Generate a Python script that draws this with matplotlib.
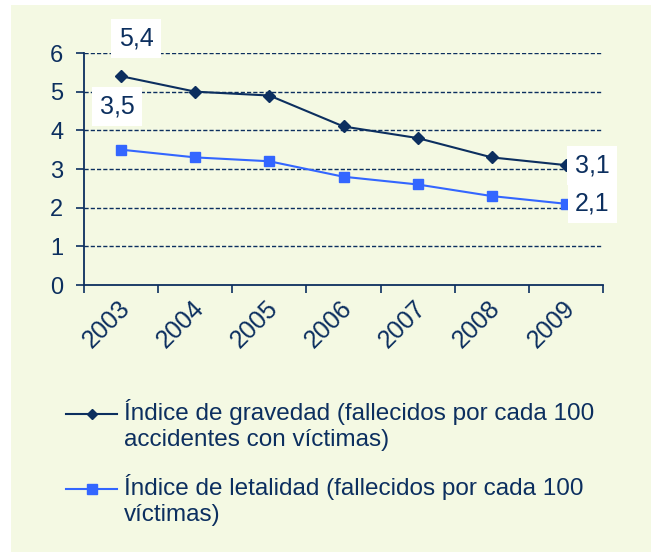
import matplotlib
matplotlib.use('Agg')
import matplotlib.pyplot as plt
import matplotlib.transforms as mtransforms
from matplotlib.lines import Line2D
from matplotlib.patches import Rectangle

plt.rcParams['font.family'] = ['Liberation Sans', 'DejaVu Sans']

years = ['2003', '2004', '2005', '2006', '2007', '2008', '2009']
gravedad = [5.4, 5.0, 4.9, 4.1, 3.8, 3.3, 3.1]
letalidad = [3.5, 3.3, 3.2, 2.8, 2.6, 2.3, 2.1]
label_grav = 'Índice de gravedad (fallecidos por cada 100\naccidentes con víctimas)'
label_let = 'Índice de letalidad (fallecidos por cada 100\nvíctimas)'

NAVY = '#0C2F5F'
BLUE = '#3366FF'
BG = '#F4F9E3'

fig = plt.figure(figsize=(6.51, 5.52), dpi=100, facecolor='white')
fig.add_artist(Rectangle((11 / 651, 0), 1 - 11 / 651, 1 - 5 / 552,
                         transform=fig.transFigure, facecolor=BG,
                         edgecolor='none', zorder=-10))

ax = fig.add_axes([84 / 651, 1 - 285 / 552, (603 - 84) / 651, (285 - 53) / 552])
ax.set_facecolor('none')

x = list(range(len(years)))
ax.plot(x, gravedad, color=NAVY, lw=1.5, marker='D', ms=6, zorder=5)
ax.plot(x, letalidad, color=BLUE, lw=1.5, marker='s', ms=7, zorder=5)

ax.set_xlim(-0.5, len(years) - 0.5)
ax.set_ylim(0, 6)
ax.set_yticks(range(7))
ax.set_xticks([i - 0.5 for i in range(len(years) + 1)])
ax.set_xticklabels([])
ax.set_xticks(x, minor=True)
ax.set_xticklabels(years, minor=True, rotation=45, ha='right', va='center',
                   rotation_mode='anchor', fontsize=18, color=NAVY)
ax.tick_params(axis='x', which='minor', length=0, pad=14)
ax.tick_params(axis='x', which='major', length=6, width=1.2, color=NAVY)
ax.tick_params(axis='y', length=6, width=1.2, color=NAVY, labelsize=17,
               labelcolor=NAVY, pad=9)

# nudge the year labels a little to the right, like the original
shift = mtransforms.ScaledTranslation(5 / 100, 0, fig.dpi_scale_trans)
for lbl in ax.get_xticklabels(minor=True):
    lbl.set_transform(lbl.get_transform() + shift)

for s in ['top', 'right']:
    ax.spines[s].set_visible(False)
for s in ['left', 'bottom']:
    ax.spines[s].set_color(NAVY)
    ax.spines[s].set_linewidth(1.3)

for yv in range(1, 7):
    ax.axhline(yv, color=NAVY, lw=1, ls=(0, (3, 1.5)), zorder=1)

box = dict(boxstyle='square,pad=0.3', facecolor='white', edgecolor='none')
lab_kw = dict(textcoords='offset points', ha='center', va='center',
              fontsize=18, color=NAVY, bbox=box, zorder=6)
ax.annotate('5,4', (0, gravedad[0]), xytext=(11, 27), **lab_kw)
ax.annotate('3,5', (0, letalidad[0]), xytext=(-3, 31), **lab_kw)
ax.annotate('3,1', (6, gravedad[-1]), xytext=(19, 0), **lab_kw)
ax.annotate('2,1', (6, letalidad[-1]), xytext=(19, 0), **lab_kw)

# legend drawn by hand so the handle sits on the first text line
def legend_entry(y_px, color, marker, ms, text):
    yf = 1 - y_px / 552
    fig.add_artist(Line2D([66 / 651, 117 / 651], [yf, yf], color=color, lw=1.5,
                          transform=fig.transFigure))
    fig.add_artist(Line2D([91.5 / 651], [yf], color=color, marker=marker, ms=ms,
                          transform=fig.transFigure))
    fig.text(124 / 651, yf + 15 / 552, text, ha='left', va='top', fontsize=17.5,
             color=NAVY, linespacing=1.24)

legend_entry(414, NAVY, 'D', 5, label_grav)
legend_entry(489, BLUE, 's', 7, label_let)

fig.savefig('out.png', dpi=100, facecolor='white')
